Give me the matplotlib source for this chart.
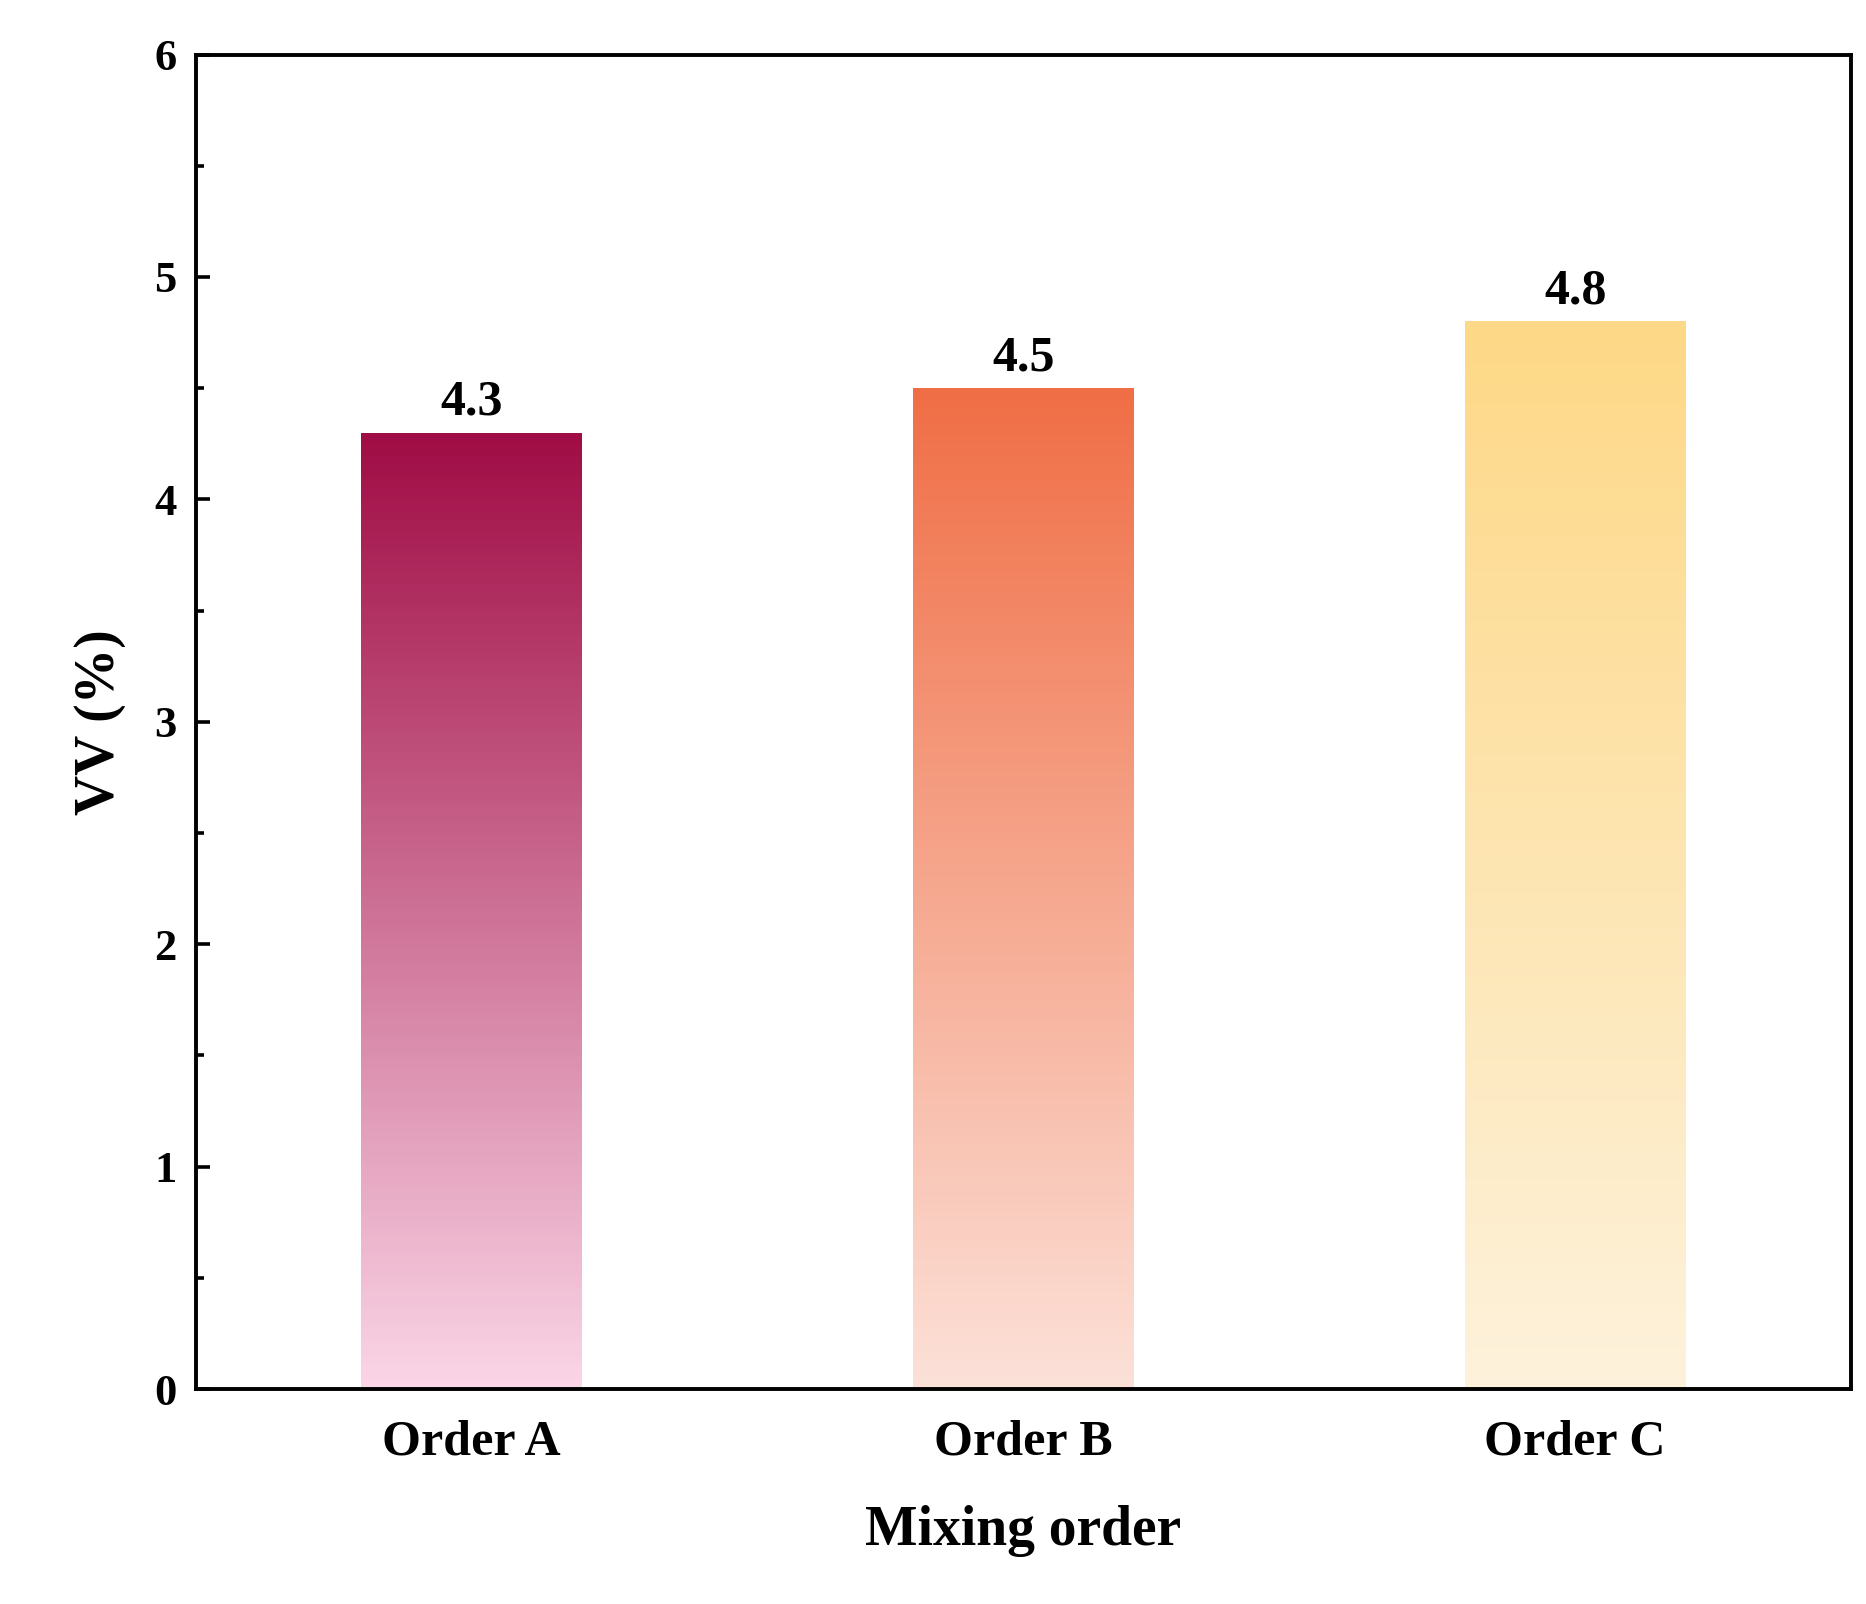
import matplotlib
matplotlib.use("Agg")
import matplotlib.pyplot as plt
import numpy as np
from matplotlib.colors import LinearSegmentedColormap

categories = ["Order A", "Order B", "Order C"]
values = [4.3, 4.5, 4.8]
labels = ["4.3", "4.5", "4.8"]
top_colors = ["#A00C45", "#F06E45", "#FDD886"]
bottom_colors = ["#FBD6E7", "#FCE1D9", "#FDF2DC"]

plt.rcParams['font.family'] = ['Liberation Serif', 'DejaVu Serif']
plt.rcParams['font.weight'] = 'bold'

fig = plt.figure(figsize=(18.66, 16.04), dpi=100)
ax = fig.add_axes([0.105, 0.134, 0.887, 0.832])
x = np.arange(len(categories))
w = 0.4
bars = ax.bar(x, values, width=w, color='none', edgecolor='none')
grad = np.linspace(0, 1, 256).reshape(-1, 1)
for b, v, tc, bc, lab in zip(bars, values, top_colors, bottom_colors, labels):
    cmap = LinearSegmentedColormap.from_list('g', [bc, tc])
    x0 = b.get_x()
    im = ax.imshow(grad, cmap=cmap, origin='lower', aspect='auto',
                   extent=[x0, x0 + w, 0, v], zorder=1)
    im.set_clip_path(b)
    ax.text(b.get_x() + w / 2, v + 0.03, lab, ha='center', va='bottom',
            fontsize=36, fontweight='bold')

ax.set_xlim(-0.5, 2.5)
ax.set_ylim(0, 6)
ax.set_xticks(x)
ax.set_xticklabels(categories, fontsize=36, fontweight='bold')
ax.set_yticks(range(7))
ax.set_yticks(np.arange(0.5, 6, 1), minor=True)
ax.tick_params(axis='y', which='major', direction='in', length=10, width=2.6, labelsize=32, pad=14)
ax.tick_params(axis='y', which='minor', direction='in', length=6, width=2.6)
ax.tick_params(axis='x', length=0, pad=22)
for s in ax.spines.values():
    s.set_linewidth(2.8)
ax.set_xlabel("Mixing order", fontsize=40, fontweight='bold', labelpad=28)
ax.set_ylabel("VV (%)", fontsize=40, fontweight='bold', labelpad=20)
fig.savefig("out.png", dpi=100)
